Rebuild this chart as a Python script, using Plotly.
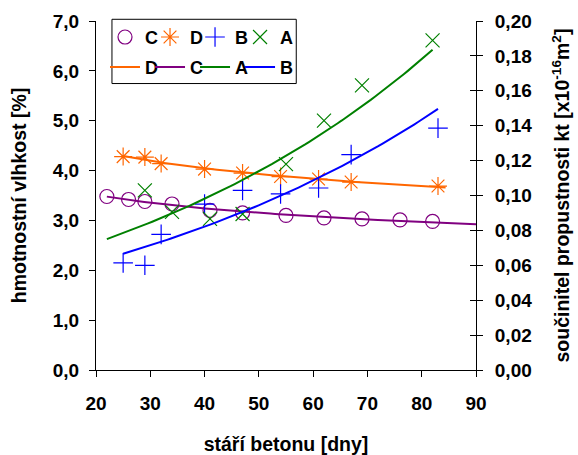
import numpy as np
import plotly.graph_objects as go

# ---- data ----
c_days = [22, 26, 29, 34, 41, 47, 55, 62, 69, 76, 82]
c_vals = [3.48, 3.42, 3.38, 3.33, 3.20, 3.15, 3.10, 3.05, 3.03, 3.01, 2.98]

d_days = [25, 29, 32, 40, 47, 54, 61, 67, 83]
d_vals = [4.28, 4.27, 4.14, 4.03, 3.95, 3.88, 3.83, 3.77, 3.69]

b_days = [25, 29, 32, 40, 47, 54, 61, 67, 83]
b_vals = [0.0614, 0.0600, 0.0777, 0.0951, 0.1029, 0.1009, 0.1043, 0.1234, 0.1386]

a_days = [29, 34, 41, 47, 55, 62, 69, 82]
a_vals = [0.1029, 0.0906, 0.0866, 0.0894, 0.1180, 0.1429, 0.1631, 0.1889]

# trendline spans (days)
c_span = [22, 90]
d_span = [25, 84.4]
a_span = [22, 82]
b_span = [25, 83]

x_ticks = [20, 30, 40, 50, 60, 70, 80, 90]

FONT = "Liberation Sans, Arial, sans-serif"
C_COL = "#800080"
D_COL = "#FF6600"
B_COL = "#0000FF"
A_COL = "#008000"


def log_fit(xs, ys, span):
    b, a = np.polyfit(np.log(xs), ys, 1)
    xx = np.linspace(span[0], span[1], 80)
    return xx, a + b * np.log(xx)


def exp_fit(xs, ys, span):
    k, lna = np.polyfit(xs, np.log(ys), 1)
    xx = np.linspace(span[0], span[1], 80)
    return xx, np.exp(lna + k * xx)


fig = go.Figure()

# markers (legend 1)
fig.add_trace(go.Scatter(x=c_days, y=c_vals, mode="markers", name="C",
                         marker=dict(symbol="circle-open", size=14, color=C_COL, line=dict(width=1.2)),
                         legend="legend"))
fig.add_trace(go.Scatter(x=d_days, y=d_vals, mode="markers", name="D",
                         marker=dict(symbol="asterisk-open", size=15, color=D_COL, line=dict(width=1.2, color=D_COL)),
                         legend="legend"))
fig.add_trace(go.Scatter(x=b_days, y=b_vals, mode="markers", name="B", yaxis="y2",
                         marker=dict(symbol="cross-thin-open", size=14, color=B_COL, line=dict(width=1.2, color=B_COL)),
                         legend="legend"))
fig.add_trace(go.Scatter(x=a_days, y=a_vals, mode="markers", name="A", yaxis="y2",
                         marker=dict(symbol="x-thin-open", size=14, color=A_COL, line=dict(width=1.2, color=A_COL)),
                         legend="legend", legendwidth=20))

# trendlines (legend 2)
xx, yy = log_fit(d_days, d_vals, d_span)
fig.add_trace(go.Scatter(x=xx, y=yy, mode="lines", name="D", line=dict(color=D_COL, width=2), legend="legend2"))
xx, yy = log_fit(c_days, c_vals, c_span)
fig.add_trace(go.Scatter(x=xx, y=yy, mode="lines", name="C", line=dict(color=C_COL, width=2), legend="legend2"))
xx, yy = exp_fit(a_days, a_vals, a_span)
fig.add_trace(go.Scatter(x=xx, y=yy, mode="lines", name="A", yaxis="y2", line=dict(color=A_COL, width=2), legend="legend2"))
xx, yy = exp_fit(b_days, b_vals, b_span)
fig.add_trace(go.Scatter(x=xx, y=yy, mode="lines", name="B", yaxis="y2", line=dict(color=B_COL, width=2),
                         legend="legend2", legendwidth=20))

tickfont = dict(family=FONT, size=19, color="black", weight="bold")
titlefont = dict(family=FONT, size=19.5, color="black", weight="bold")
legfont = dict(family=FONT, size=18, color="black", weight="bold")

fig.update_layout(
    width=578, height=455,
    margin=dict(l=95.7, r=102, t=20.7, b=85, pad=0, autoexpand=False),
    paper_bgcolor="white", plot_bgcolor="white",
    separators=", ",
    showlegend=True,
    xaxis=dict(range=[20, 90], tickvals=x_ticks, showgrid=False, zeroline=False, automargin=False,
               showline=True, linecolor="black", linewidth=1,
               ticks="outside", ticklen=6, tickcolor="black", tickwidth=1,
               tickfont=tickfont, ticklabelstandoff=10,
               title=dict(text="stáří betonu [dny]", font=titlefont, standoff=28)),
    yaxis=dict(range=[0, 7], dtick=1, tickformat=".1f", showgrid=False, zeroline=False, automargin=False,
               showline=True, linecolor="black", linewidth=1,
               ticks="outside", ticklen=6, tickcolor="black", tickwidth=1,
               tickfont=tickfont, ticklabelstandoff=6,
               title=dict(text="hmotnostní vlhkost [%]", font=titlefont, standoff=20)),
    yaxis2=dict(range=[0, 0.2], dtick=0.02, tickformat=".2f", overlaying="y", side="right",
                anchor="x", showgrid=False, zeroline=False, automargin=False,
                showline=True, linecolor="black", linewidth=1,
                ticks="outside", ticklen=6, tickcolor="black", tickwidth=1,
                tickfont=tickfont, ticklabelstandoff=8,
                title=dict(text="součinitel propustnosti kt [x10<sup>-16</sup>m<sup>2</sup>]",
                           font=titlefont, standoff=24)),
    yaxis3=dict(range=[0, 0.2], dtick=0.02, overlaying="y", side="right", anchor="x",
                showgrid=False, zeroline=False, showline=False, showticklabels=False, automargin=False,
                ticks="inside", ticklen=6, tickcolor="black", tickwidth=1),
    legend=dict(orientation="h", x=0.0237, y=1.0063, xanchor="left", yanchor="top",
                entrywidth=0.01, itemwidth=30, font=legfont, bgcolor="rgba(0,0,0,0)",
                borderwidth=0, traceorder="normal"),
    legend2=dict(orientation="h", x=0.0237, y=0.9204, xanchor="left", yanchor="top",
                 entrywidth=0.01, itemwidth=30, font=legfont, bgcolor="rgba(0,0,0,0)",
                 borderwidth=0, traceorder="normal"),
    shapes=[dict(type="rect", xref="paper", yref="paper", x0=0.042, x1=0.527, y0=0.8208, y1=1.0049,
                 line=dict(color="black", width=1), fillcolor="rgba(0,0,0,0)", layer="above")],
)

# invisible trace to activate yaxis3 (cross ticks on the right axis)
fig.add_trace(go.Scatter(x=[None], y=[None], yaxis="y3", showlegend=False, hoverinfo="skip"))

fig.write_html("out.html", config={"displayModeBar": False},
               post_script="document.body.style.margin='0px';document.body.style.padding='0px';")
